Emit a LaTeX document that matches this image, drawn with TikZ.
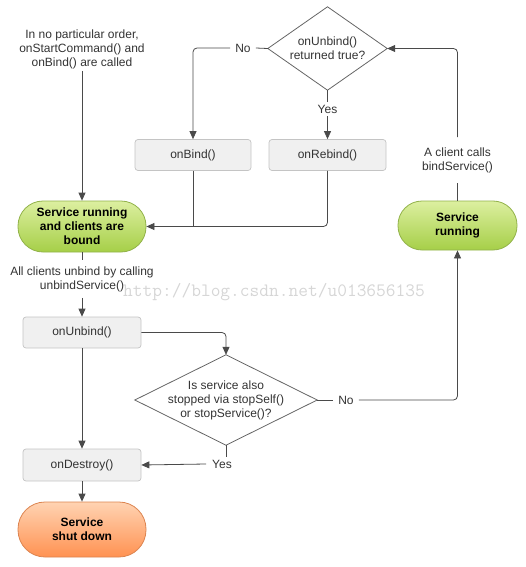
\documentclass[tikz,border=0pt]{standalone}
\usepackage{fontspec}
\setmainfont{Liberation Sans}
\usetikzlibrary{arrows.meta}
\definecolor{linec}{HTML}{4A4A4A}
\definecolor{textc}{HTML}{333333}
\definecolor{boxf}{HTML}{F0F0F0}
\definecolor{boxb}{HTML}{C4C4C4}
\definecolor{gtop}{HTML}{DCEFA0}
\definecolor{gbot}{HTML}{A6CF48}
\definecolor{gbord}{HTML}{92B24A}
\definecolor{otop}{HTML}{FFD3B2}
\definecolor{obot}{HTML}{FF9252}
\definecolor{obord}{HTML}{DC8450}
\definecolor{wmark}{HTML}{D6D6D6}
\begin{document}
\begin{tikzpicture}[x=1pt,y=-1pt,
  font=\fontsize{12}{14}\selectfont,
  pill/.style={rounded corners=24pt, draw=gbord, line width=0.8pt, top color=gtop, bottom color=gbot,
    font=\fontsize{12}{14}\selectfont\bfseries, align=center, text=black, inner sep=0pt},
  opill/.style={pill, draw=obord, top color=otop, bottom color=obot},
  box/.style={draw=boxb, fill=boxf, rounded corners=3pt, line width=0.7pt, minimum height=31pt, text=textc, inner sep=0pt},
  dnode/.style={inner sep=0pt, align=center, text=textc},
  diam/.style={draw=linec!85, line width=0.8pt, line join=miter},
  lbl/.style={text=textc, inner xsep=5pt, inner ysep=3pt, align=center},
  conn/.style={draw=linec, line width=0.8pt, rounded corners=4pt},
  arr/.style={conn, -{Triangle[length=8pt,width=7pt]}}
]
\useasboundingbox (0,0) rectangle (526,567);

% watermark
\node (wm) at (274,292) {\fontsize{18.9}{20}\selectfont\ttfamily\color{wmark}http://blog.csdn.net/u013656135};

% nodes
\node[lbl, inner ysep=2pt] (t1) at (82,49) {In no particular order,\\onStartCommand() and\\onBind() are called};
\node[pill, minimum width=128pt, minimum height=51pt, rounded corners=25pt] (lp) at (82,226.5) {Service running\\and clients are\\bound};

\node[dnode, minimum width=119pt, minimum height=83pt] (d1) at (327.5,48.5) {onUnbind()\\returned true?};
\draw[diam] (d1.north) -- (d1.east) -- (d1.south) -- (d1.west) -- cycle;

\node[lbl] (no1) at (243,48) {No};
\node[lbl] (yes1) at (327.5,109) {Yes};
\node[box, minimum width=116pt] (onbind) at (193,155) {onBind()};
\node[box, minimum width=117pt] (onrebind) at (327.5,155) {onRebind()};

\node[lbl, inner ysep=10pt] (cl) at (457.5,160) {A client calls\\bindService()};
\node[pill, minimum width=119pt, minimum height=49pt] (rp) at (457.5,225.5) {Service\\running};

\node[lbl, inner ysep=6pt] (u1) at (82,279) {All clients unbind by calling\\unbindService()};
\node[box, minimum width=118pt] (onunbind) at (82,332.5) {onUnbind()};

\node[dnode, minimum width=182pt, minimum height=90pt] (d2) at (226,400) {Is service also\\stopped via stopSelf()\\or stopService()?};
\draw[diam] (d2.north) -- (d2.east) -- (d2.south) -- (d2.west) -- cycle;
\node[lbl] (no2) at (346,400) {No};

\node[box, minimum width=118pt, minimum height=32pt] (ondestroy) at (82,465) {onDestroy()};
\node[lbl, inner xsep=6pt] (yes2) at (222,464) {Yes};
\node[opill, minimum width=128pt, minimum height=55pt, rounded corners=27pt] (sd) at (82,529.5) {Service\\shut down};

% connectors
\draw[arr] (t1.south) -- (lp.north);
\draw[conn] (d1.west) -- (no1.east);
\draw[arr] (no1.west) -| (onbind.north);
\draw[conn] (d1.south) -- (yes1.north);
\draw[arr] (yes1.south) -- (onrebind.north);
\draw[conn] (rp.north) -- (cl.south);
\draw[arr] (cl.north) |- (d1.east);
\draw[conn] (onbind.south) -- (onbind.south |- lp.east);
\draw[arr] (onrebind.south) |- (lp.east);
\draw[conn] (lp.south) -- (u1.north);
\draw[arr] (u1.south) -- (onunbind.north);
\draw[arr] (onunbind.east) -| (d2.north);
\draw[conn] (d2.east) -- (no2.west);
\draw[arr] (no2.east) -| (rp.south);
\draw[arr] (onunbind.south) -- (ondestroy.north);
\draw[conn] (d2.south) -- (d2.south |- yes2.north);
\draw[arr] (yes2.west) -- (ondestroy.east);
\draw[arr] (ondestroy.south) -- (sd.north);
\end{tikzpicture}
\end{document}
